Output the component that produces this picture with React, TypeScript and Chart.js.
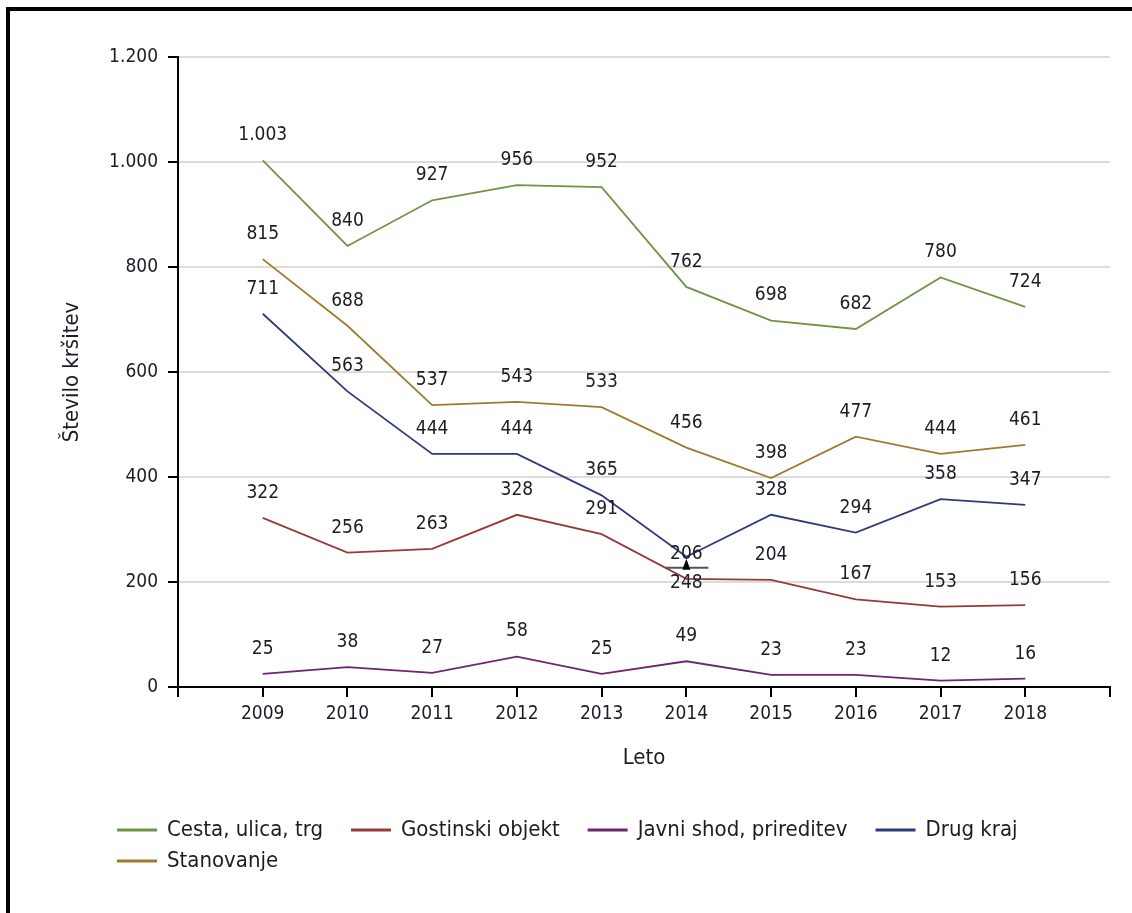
import React, { useEffect, useRef } from 'react';
import { Chart, registerables } from 'chart.js';

Chart.register(...registerables);

// ---------- data ----------
const years = [2009, 2010, 2011, 2012, 2013, 2014, 2015, 2016, 2017, 2018];
const cesta = [1003, 840, 927, 956, 952, 762, 698, 682, 780, 724];
const gostinski = [322, 256, 263, 328, 291, 206, 204, 167, 153, 156];
const javni = [25, 38, 27, 58, 25, 49, 23, 23, 12, 16];
const drugKraj = [711, 563, 444, 444, 365, 248, 328, 294, 358, 347];
const stanovanje = [815, 688, 537, 543, 533, 456, 398, 477, 444, 461];

const seriesNames = ['Cesta, ulica, trg', 'Gostinski objekt', 'Javni shod, prireditev', 'Drug kraj', 'Stanovanje'];
const seriesColors = ['#6f9447', '#963a38', '#6e2472', '#2f3a7c', '#a07a2c'];
const yTickValues = [0, 200, 400, 600, 800, 1000, 1200];
const xTitle = 'Leto';
const yTitle = 'Število kršitev';

// labels drawn below their point instead of above (collision at 2014)
const labelsBelow = [{ series: 3, index: 5 }];

const FONT = "'DejaVu Sans Condensed', 'DejaVu Sans', sans-serif";
const TEXT = '#1c1c24';

const fmt = (v: number) => String(v).replace(/\B(?=(\d{3})+(?!\d))/g, '.');

const allSeries = [cesta, gostinski, javni, drugKraj, stanovanje];

const dataLabelPlugin = {
  id: 'dataLabels',
  afterDatasetsDraw(chart: any) {
    const ctx = chart.ctx;
    ctx.save();
    ctx.font = `19px ${FONT}`;
    ctx.textAlign = 'center';
    ctx.textBaseline = 'middle';
    chart.data.datasets.forEach((ds: any, di: number) => {
      const meta = chart.getDatasetMeta(di);
      meta.data.forEach((pt: any, i: number) => {
        const below = labelsBelow.some((b) => b.series === di && b.index === i);
        const v = ds.data[i].y;
        if (below) {
          // small collision marker
          ctx.strokeStyle = '#555';
          ctx.lineWidth = 2;
          ctx.beginPath();
          ctx.moveTo(pt.x - 21, pt.y + 11);
          ctx.lineTo(pt.x + 22, pt.y + 11);
          ctx.stroke();
          ctx.fillStyle = '#000';
          ctx.beginPath();
          ctx.moveTo(pt.x, pt.y + 2);
          ctx.lineTo(pt.x - 4, pt.y + 13);
          ctx.lineTo(pt.x + 4, pt.y + 13);
          ctx.closePath();
          ctx.fill();
        }
        ctx.fillStyle = TEXT;
        ctx.fillText(fmt(v), pt.x, pt.y + (below ? 26 : -25));
      });
    });
    ctx.restore();
  },
};

const legendPlugin = {
  id: 'customLegend',
  afterDraw(chart: any) {
    const ctx = chart.ctx;
    ctx.save();
    ctx.font = `22px ${FONT}`;
    ctx.textBaseline = 'middle';
    ctx.textAlign = 'left';
    const startX = 107;
    const rowH = 31;
    const lineLen = 40;
    const gap = 10;
    const limit = 1112;
    let x = startX;
    let y = chart.chartArea.bottom + 143;
    chart.data.datasets.forEach((ds: any) => {
      const w = lineLen + gap + ctx.measureText(ds.label).width;
      if (x > startX && x + w > limit) {
        x = startX;
        y += rowH;
      }
      ctx.fillStyle = ds.borderColor;
      ctx.fillRect(x, y - 1.5, lineLen, 3);
      ctx.fillStyle = TEXT;
      ctx.fillText(ds.label, x + lineLen + gap, y);
      x += w + 28;
    });
    ctx.restore();
  },
};

export default function App() {
  const canvasRef = useRef<HTMLCanvasElement | null>(null);

  useEffect(() => {
    if (!canvasRef.current) return;
    const chart = new Chart(canvasRef.current, {
      type: 'line',
      data: {
        datasets: allSeries.map((vals, si) => ({
          label: seriesNames[si],
          data: years.map((yr, i) => ({ x: yr, y: vals[i] })),
          borderColor: seriesColors[si],
          backgroundColor: seriesColors[si],
          borderWidth: 1.8,
          pointRadius: 0,
          pointHoverRadius: 0,
          tension: 0,
          fill: false,
        })),
      },
      options: {
        responsive: false,
        maintainAspectRatio: false,
        animation: false,
        events: [],
        layout: { padding: { top: 46, right: 22, bottom: 136, left: 0 } },
        plugins: {
          legend: { display: false },
          tooltip: { enabled: false },
          title: { display: false },
        },
        scales: {
          x: {
            type: 'linear',
            min: years[0] - 1,
            max: years[years.length - 1] + 1,
            afterFit: (s: any) => {
              s.height = 90;
            },
            ticks: {
              stepSize: 1,
              autoSkip: false,
              maxRotation: 0,
              padding: 6,
              color: TEXT,
              font: { size: 19, family: FONT },
              callback: (v: any) => (years.includes(Number(v)) ? String(v) : ''),
            },
            grid: {
              drawOnChartArea: false,
              tickLength: 10,
              tickColor: '#000',
              tickWidth: 2,
              color: '#000',
              lineWidth: 2,
            },
            border: { color: '#000', width: 2 },
            title: {
              display: true,
              text: xTitle,
              color: TEXT,
              font: { size: 22, family: FONT },
              padding: { top: 0, bottom: 6 },
            },
          },
          y: {
            min: yTickValues[0],
            max: yTickValues[yTickValues.length - 1],
            afterFit: (s: any) => {
              s.width = 168;
            },
            afterBuildTicks: (s: any) => {
              s.ticks = yTickValues.map((v) => ({ value: v }));
            },
            ticks: {
              padding: 10,
              color: TEXT,
              font: { size: 19, family: FONT },
              callback: (v: any) => fmt(Number(v)),
            },
            grid: {
              color: '#dcdcdc',
              lineWidth: 2,
              tickColor: '#000',
              tickWidth: 2,
              tickLength: 10,
            },
            border: { color: '#000', width: 2 },
            title: {
              display: true,
              text: yTitle,
              color: TEXT,
              font: { size: 22, family: FONT },
              padding: { top: 49, bottom: 0 },
            },
          },
        },
      },
      plugins: [dataLabelPlugin, legendPlugin],
    } as any);
    return () => chart.destroy();
  }, []);

  return (
    <div
      style={{
        position: 'absolute',
        left: 6,
        top: 7,
        width: 1126,
        height: 906,
        boxSizing: 'border-box',
        borderTop: '4px solid #000',
        borderLeft: '4px solid #000',
        background: '#fff',
        overflow: 'hidden',
      }}
    >
      <canvas ref={canvasRef} width={1122} height={902} style={{ display: 'block' }} />
    </div>
  );
}
